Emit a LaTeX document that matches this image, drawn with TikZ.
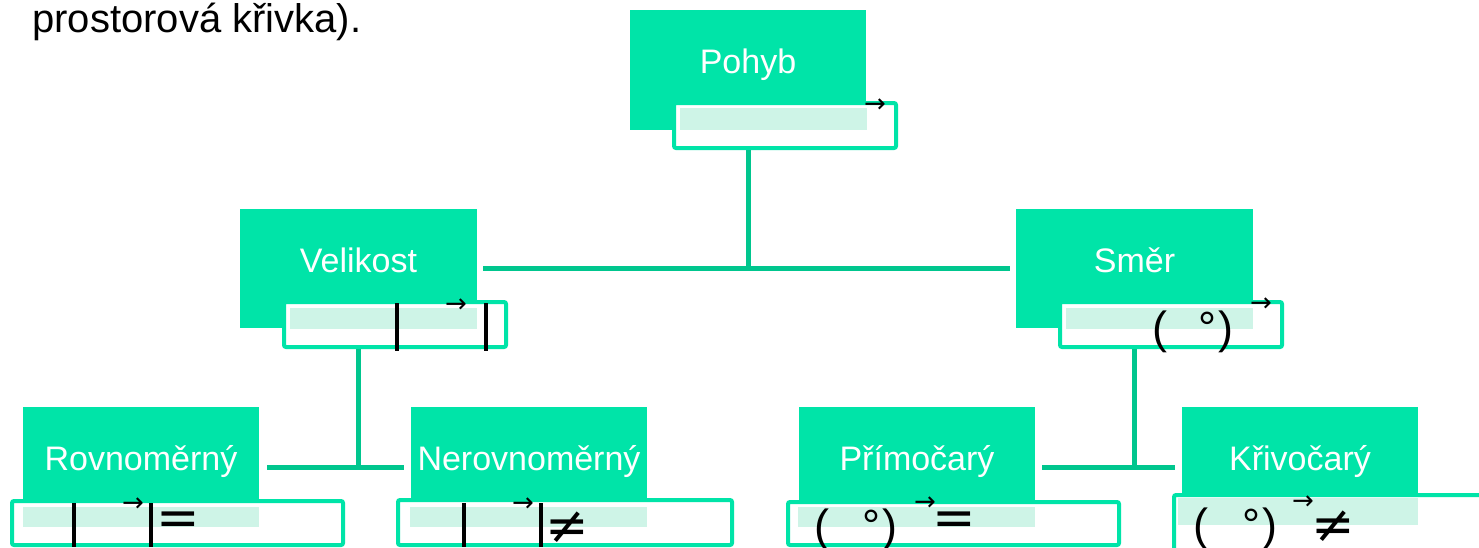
\documentclass[tikz,border=0pt]{standalone}
\usepackage{fontspec}
\setmainfont{Liberation Sans}
\newfontfamily\dejavu{DejaVu Sans}
\usetikzlibrary{fit}
\definecolor{mint}{RGB}{0,228,168}
\definecolor{linegreen}{RGB}{0,198,142}
\definecolor{dotfill}{RGB}{206,244,231}
\tikzset{
  gbox/.style={fill=mint, draw=none, inner sep=0pt},
  obox/.style={fill=white, draw=mint, line width=2pt, inner sep=0pt, rounded corners=1pt},
  dbox/.style={fill=dotfill, draw=none, inner sep=0pt},
  lbl/.style={text=white, font=\fontsize{17}{20}\selectfont, anchor=base, inner sep=0pt},
  conn/.style={draw=linegreen, line width=2.5pt},
  bar/.style={draw=black, line width=2pt},
  paren/.style={font=\fontsize{22.5}{26}\selectfont, anchor=base, inner sep=0pt},
  vec/.style={font=\dejavu\fontsize{13}{15}\selectfont, anchor=center, inner sep=0pt},
  rel/.style={font=\dejavu\fontsize{26}{30}\selectfont, anchor=center, inner sep=0pt},
}
\begin{document}
\begin{tikzpicture}[x=0.5pt, y=-0.5pt]
\useasboundingbox (0,0) rectangle (1479,547);
\clip (0,0) rectangle (1479,547);
\fill[white] (0,0) rectangle (1479,547);

% top text
\node[anchor=base west, inner sep=0pt, font=\fontsize{20}{24}\selectfont] (toptext) at (32,32) {prostorová křivka).};

% ---------- Pohyb ----------
\node[gbox, fit={(630,10)(866,130)}] (pohyb) {};
\node[obox, fit={(674,103)(896,148)}] (pohybo) {};
\node[dbox, fit={(680,108)(867,130)}] (pohybd) {};
\node[lbl] (pohybl) at (748,73) {Pohyb};
\node[vec] (pohybv) at (875,106) {→};

% ---------- Velikost ----------
\node[gbox, fit={(240,209)(477,328)}] (velikost) {};
\node[obox, fit={(284,302)(506,347)}] (velikosto) {};
\node[dbox, fit={(290,308)(477,329)}] (velikostd) {};
\node[lbl] (velikostl) at (358.5,272) {Velikost};
\draw[bar] (397,303) -- (397,351);
\draw[bar] (486,303) -- (486,351);
\node[vec] (velikostv) at (456,306) {→};

% ---------- Smer ----------
\node[gbox, fit={(1016,209)(1253,328)}] (smer) {};
\node[obox, fit={(1060,302)(1282,347)}] (smero) {};
\node[dbox, fit={(1066,308)(1253,329)}] (smerd) {};
\node[lbl] (smerl) at (1134.5,272) {Směr};
\node[paren] (smerp1) at (1160,343) {(};
\node[paren] (smerdeg) at (1207,343) {°};
\node[paren] (smerp2) at (1226,343) {)};
\node[vec] (smerv) at (1261,305) {→};

% ---------- Rovnomerny ----------
\node[gbox, fit={(23,407)(259,500)}] (rovn) {};
\node[obox, fit={(12,501)(343,545)}] (rovno) {};
\node[dbox, fit={(23,507)(259,527)}] (rovnd) {};
\node[lbl] (rovnl) at (141,470) {Rovnoměrný};
\draw[bar] (74,503) -- (74,547);
\draw[bar] (151,503) -- (151,547);
\node[vec] (rovnv) at (133,505) {→};
\node[rel] (rovne) at (178,524) {=};

% ---------- Nerovnomerny ----------
\node[gbox, fit={(411,407)(647,500)}] (nerovn) {};
\node[obox, fit={(398,500)(732,545)}] (nerovno) {};
\node[dbox, fit={(410,507)(647,527)}] (nerovnd) {};
\node[lbl] (nerovnl) at (529,470) {Nerovnoměrný};
\draw[bar] (464,503) -- (464,547);
\draw[bar] (541,503) -- (541,547);
\node[vec] (nerovnv) at (523,505) {→};
\node[rel] (nerovne) at (567,528) {≠};

% ---------- Primocary ----------
\node[gbox, fit={(799,407)(1035,500)}] (prim) {};
\node[obox, fit={(788,502)(1119,545)}] (primo) {};
\node[dbox, fit={(798,507)(1035,527)}] (primd) {};
\node[lbl] (priml) at (917,470) {Přímočarý};
\node[paren] (primp1) at (822,541) {(};
\node[paren] (primdeg) at (871,541) {°};
\node[paren] (primp2) at (890,541) {)};
\node[vec] (primv) at (925,504) {→};
\node[rel] (prime) at (954,524) {=};

% ---------- Krivocary ----------
\node[gbox, fit={(1182,407)(1418,493)}] (kriv) {};
\node[obox, fit={(1174,495)(1495,565)}] (krivo) {};
\node[dbox, fit={(1178,498)(1418,525)}] (krivd) {};
\node[lbl] (krivl) at (1300,470) {Křivočarý};
\node[paren] (krivp1) at (1201,540) {(};
\node[paren] (krivdeg) at (1251,540) {°};
\node[paren] (krivp2) at (1270,540) {)};
\node[vec] (krivv) at (1303,503) {→};
\node[rel] (krive) at (1333,527) {≠};

% ---------- connectors ----------
\coordinate (j1) at (748,268);
\draw[conn] (pohyb.center |- pohybo.south) -- (j1);
\draw[conn] ([xshift=3pt]velikost.east |- j1) -- ([xshift=-3pt]smer.west |- j1);

\coordinate (j2) at (358.5,467);
\draw[conn] (velikost.center |- velikosto.south) -- (j2);
\draw[conn] ([xshift=4pt]rovn.east |- j2) -- ([xshift=-3.5pt]nerovn.west |- j2);

\coordinate (j3) at (1134.5,467);
\draw[conn] (smer.center |- smero.south) -- (j3);
\draw[conn] ([xshift=3.5pt]prim.east |- j3) -- ([xshift=-3.5pt]kriv.west |- j3);
\end{tikzpicture}
\end{document}
